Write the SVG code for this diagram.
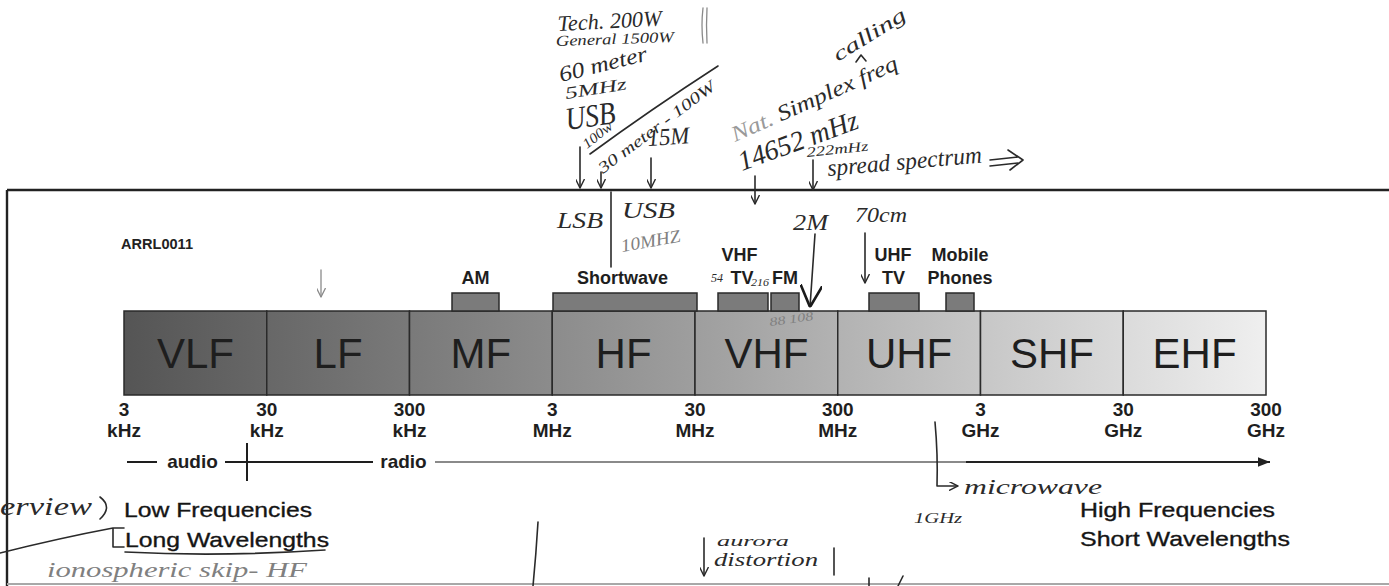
<svg xmlns="http://www.w3.org/2000/svg" width="1389" height="586" viewBox="0 0 1389 586">
<style>
.band{stroke:#2a2a2a;stroke-width:1.5}
.blab{font-family:"Liberation Sans",Arial,sans-serif;font-size:42px;fill:#1e1e1e;text-anchor:middle}
.sub{fill:#7b7b7b;stroke:#2a2a2a;stroke-width:1.5}
.slab{font-family:"Liberation Sans",Arial,sans-serif;font-size:18px;font-weight:bold;fill:#1e1e1e;text-anchor:middle}
.tick{font-family:"Liberation Sans",Arial,sans-serif;font-size:19px;font-weight:bold;fill:#1e1e1e;text-anchor:middle}
.big{font-family:"Liberation Sans",Arial,sans-serif;font-size:21px;fill:#151515;stroke:#151515;stroke-width:0.35}
.hw{font-family:"Liberation Serif",serif;font-style:italic;fill:#2a2a2a}
.hwg{font-family:"Liberation Serif",serif;font-style:italic;fill:#808080}
.pen{fill:none;stroke:#2a2a2a;stroke-width:1.6;stroke-linecap:round;stroke-linejoin:round}
.peng{fill:none;stroke:#8a8a8a;stroke-width:1.3;stroke-linecap:round}
.frame{fill:none;stroke:#222;stroke-width:2.4}
</style>
<defs>
<linearGradient id="spec" gradientUnits="userSpaceOnUse" x1="124" y1="0" x2="1266" y2="0">
<stop offset="0" stop-color="#555555"/>
<stop offset="0.5" stop-color="#9e9e9e"/>
<stop offset="1" stop-color="#efefef"/>
</linearGradient>
<marker id="ah" viewBox="0 0 10 10" refX="10" refY="5" markerWidth="9" markerHeight="9" markerUnits="userSpaceOnUse" orient="auto">
<path d="M0,0 L10,5 L0,10" fill="none" stroke="#2a2a2a" stroke-width="1.6"/>
</marker>
<marker id="ahg" viewBox="0 0 10 10" refX="10" refY="5" markerWidth="9" markerHeight="9" markerUnits="userSpaceOnUse" orient="auto">
<path d="M0,0 L10,5 L0,10" fill="none" stroke="#8a8a8a" stroke-width="1.4"/>
</marker>
<marker id="ahbig" viewBox="0 0 10 10" refX="10" refY="5" markerWidth="22" markerHeight="22" markerUnits="userSpaceOnUse" orient="auto">
<path d="M0,0 L10,5 L0,10" fill="none" stroke="#1a1a1a" stroke-width="1.2"/>
</marker>
<marker id="tri" viewBox="0 0 10 10" refX="10" refY="5" markerWidth="12" markerHeight="12" markerUnits="userSpaceOnUse" orient="auto">
<path d="M0,1 L10,5 L0,9 Z" fill="#222"/>
</marker>
</defs>

<rect width="1389" height="586" fill="#ffffff"/>

<g id="frame">
<path class="frame" d="M7,190 H1389"/>
<path class="frame" d="M7,190 V586"/>
<path d="M7,584 H1389" stroke="#a8a8a8" stroke-width="2"/>
</g>

<g id="title"><text x="121" y="249" font-family="Liberation Sans, Arial, sans-serif" font-size="14" font-weight="bold" fill="#222" textLength="72" lengthAdjust="spacingAndGlyphs">ARRL0011</text></g>

<g id="band-vlf"><rect class="band" x="124" y="311" width="142.75" height="84" fill="url(#spec)"/><text class="blab" x="195.4" y="368">VLF</text></g>
<g id="band-lf"><rect class="band" x="266.75" y="311" width="142.75" height="84" fill="url(#spec)"/><text class="blab" x="338.1" y="368">LF</text></g>
<g id="band-mf"><rect class="band" x="409.5" y="311" width="142.75" height="84" fill="url(#spec)"/><text class="blab" x="480.9" y="368">MF</text></g>
<g id="band-hf"><rect class="band" x="552.25" y="311" width="142.75" height="84" fill="url(#spec)"/><text class="blab" x="623.6" y="368">HF</text></g>
<g id="band-vhf"><rect class="band" x="695" y="311" width="142.75" height="84" fill="url(#spec)"/><text class="blab" x="766.4" y="368">VHF</text></g>
<g id="band-uhf"><rect class="band" x="837.75" y="311" width="142.75" height="84" fill="url(#spec)"/><text class="blab" x="909.1" y="368">UHF</text></g>
<g id="band-shf"><rect class="band" x="980.5" y="311" width="142.75" height="84" fill="url(#spec)"/><text class="blab" x="1051.9" y="368">SHF</text></g>
<g id="band-ehf"><rect class="band" x="1123.25" y="311" width="142.75" height="84" fill="url(#spec)"/><text class="blab" x="1194.6" y="368">EHF</text></g>

<g id="sub-am"><rect class="sub" x="452" y="293" width="47" height="18"/><text class="slab" x="475.5" y="284">AM</text></g>
<g id="sub-shortwave"><rect class="sub" x="553" y="293" width="144" height="18"/><text class="slab" x="622.5" y="284">Shortwave</text></g>
<g id="sub-vhftv"><rect class="sub" x="718" y="293" width="50" height="18"/><text class="slab" x="739.5" y="261">VHF</text><text class="slab" x="742" y="284">TV</text></g>
<g id="sub-fm"><rect class="sub" x="771" y="293" width="28" height="18"/><text class="slab" x="785" y="284">FM</text></g>
<g id="sub-uhftv"><rect class="sub" x="869" y="293" width="50" height="18"/><text class="slab" x="893" y="261">UHF</text><text class="slab" x="893.5" y="284">TV</text></g>
<g id="sub-mobile"><rect class="sub" x="946" y="293" width="28" height="18"/><text class="slab" x="960" y="261">Mobile</text><text class="slab" x="960" y="284">Phones</text></g>

<g id="ticks">
<text class="tick" x="124" y="416">3</text><text class="tick" x="124" y="437">kHz</text>
<text class="tick" x="266.75" y="416">30</text><text class="tick" x="266.75" y="437">kHz</text>
<text class="tick" x="409.5" y="416">300</text><text class="tick" x="409.5" y="437">kHz</text>
<text class="tick" x="552.25" y="416">3</text><text class="tick" x="552.25" y="437">MHz</text>
<text class="tick" x="695" y="416">30</text><text class="tick" x="695" y="437">MHz</text>
<text class="tick" x="837.75" y="416">300</text><text class="tick" x="837.75" y="437">MHz</text>
<text class="tick" x="980.5" y="416">3</text><text class="tick" x="980.5" y="437">GHz</text>
<text class="tick" x="1123.25" y="416">30</text><text class="tick" x="1123.25" y="437">GHz</text>
<text class="tick" x="1266" y="416">300</text><text class="tick" x="1266" y="437">GHz</text>
</g>

<g id="axis">
<path d="M127,462 H157 M225,462 H373 M247,443 V481" stroke="#1e1e1e" stroke-width="2" fill="none"/>
<text class="tick" x="192.5" y="468">audio</text>
<text class="tick" x="403.5" y="468">radio</text>
<path d="M435,462 H966" stroke="#8a8a8a" stroke-width="2.2" fill="none"/>
<path d="M966,462 H1270" stroke="#222" stroke-width="2.2" fill="none" marker-end="url(#tri)"/>
</g>

<g id="captions">
<text class="big" x="124" y="517" textLength="188" lengthAdjust="spacingAndGlyphs">Low Frequencies</text>
<text class="big" x="125" y="547" textLength="204" lengthAdjust="spacingAndGlyphs">Long Wavelengths</text>
<text class="big" x="1080" y="517" textLength="195" lengthAdjust="spacingAndGlyphs">High Frequencies</text>
<text class="big" x="1080" y="546" textLength="210" lengthAdjust="spacingAndGlyphs">Short Wavelengths</text>
</g>

<g id="notes">
<text class="hw" transform="translate(558,31) rotate(-3)" font-size="22" textLength="104" lengthAdjust="spacingAndGlyphs">Tech. 200W</text>
<text class="hw" transform="translate(556,46) rotate(-2)" font-size="15" textLength="118" lengthAdjust="spacingAndGlyphs">General 1500W</text>
<text class="hw" transform="translate(561,82) rotate(-14)" font-size="22" textLength="90" lengthAdjust="spacingAndGlyphs">60 meter</text>
<text class="hw" transform="translate(566,99) rotate(-9)" font-size="17" textLength="62" lengthAdjust="spacingAndGlyphs">5MHz</text>
<text class="hw" transform="translate(567,130) rotate(-8)" font-size="32" textLength="50" lengthAdjust="spacingAndGlyphs">USB</text>
<text class="hw" transform="translate(587,149) rotate(-38)" font-size="14" textLength="34" lengthAdjust="spacingAndGlyphs">100w</text>
<text class="hw" transform="translate(603,174) rotate(-37)" font-size="16" textLength="142" lengthAdjust="spacingAndGlyphs">30 meter - 100W</text>
<text class="hw" transform="translate(648,146) rotate(-4)" font-size="24" textLength="42" lengthAdjust="spacingAndGlyphs">15M</text>
<text class="hw" x="557" y="228" font-size="24" textLength="46" lengthAdjust="spacingAndGlyphs">LSB</text>
<text class="hw" x="622" y="218" font-size="24" textLength="53" lengthAdjust="spacingAndGlyphs">USB</text>
<text class="hwg" transform="translate(622,252) rotate(-10)" font-size="18" textLength="60" lengthAdjust="spacingAndGlyphs">10MHZ</text>
<text class="hw" transform="translate(735,142) rotate(-24)" font-size="22" textLength="180" lengthAdjust="spacingAndGlyphs"><tspan fill="#9a9a9a">Nat.</tspan> Simplex freq</text>
<text class="hw" transform="translate(838,62) rotate(-32)" font-size="20" textLength="82" lengthAdjust="spacingAndGlyphs">calling</text>
<text class="hw" transform="translate(742,171) rotate(-20)" font-size="28" textLength="126" lengthAdjust="spacingAndGlyphs">14652 mHz</text>
<text class="hw" transform="translate(807,157) rotate(-6)" font-size="14" textLength="62" lengthAdjust="spacingAndGlyphs">222mHz</text>
<text class="hw" transform="translate(828,176) rotate(-5)" font-size="24" textLength="155" lengthAdjust="spacingAndGlyphs">spread spectrum</text>
<text class="hw" x="793" y="230" font-size="24" textLength="35" lengthAdjust="spacingAndGlyphs">2M</text>
<text class="hw" x="855" y="222" font-size="20" textLength="52" lengthAdjust="spacingAndGlyphs">70cm</text>
<text class="hw" x="711" y="282" font-size="12">54</text>
<text class="hw" x="751" y="286" font-size="10" textLength="18" lengthAdjust="spacingAndGlyphs">216</text>
<text class="hwg" transform="translate(770,326) rotate(-8)" font-size="12" textLength="44" lengthAdjust="spacingAndGlyphs">88 108</text>
<text class="hw" x="964" y="494" font-size="20" textLength="138" lengthAdjust="spacingAndGlyphs" fill="#555">microwave</text>
<text class="hw" x="914" y="523" font-size="14" textLength="48" lengthAdjust="spacingAndGlyphs" fill="#555">1GHz</text>
<text class="hw" x="0" y="515" font-size="26" textLength="92" lengthAdjust="spacingAndGlyphs" fill="#555">erview</text>
<text class="hwg" x="47" y="577" font-size="20" textLength="260" lengthAdjust="spacingAndGlyphs">ionospheric skip- HF</text>
<text class="hw" x="717" y="546" font-size="14" textLength="72" lengthAdjust="spacingAndGlyphs" fill="#444">aurora</text>
<text class="hw" x="714" y="566" font-size="18" textLength="104" lengthAdjust="spacingAndGlyphs" fill="#444">distortion</text>
</g>

<g id="connectors">
<path class="peng" d="M703,8 Q701,25 703,43 M707,8 Q706,25 707,43"/>
<path class="pen" d="M590,154 Q650,110 718,66"/>
<path class="pen" d="M580,147 V188" marker-end="url(#ah)"/>
<path class="pen" d="M601,172 V188" marker-end="url(#ah)"/>
<path class="pen" d="M651,158 V188" marker-end="url(#ah)"/>
<path class="pen" d="M611,192 V267"/>
<path class="pen" d="M856,62 L861,55 L866,61"/>
<path class="pen" d="M990,160 L1018,157 M990,166 L1018,163 M1008,150 L1023,160 L1010,170"/>
<path class="pen" d="M813,160 V190" marker-end="url(#ah)"/>
<path class="pen" d="M755,176 V204" marker-end="url(#ah)"/>
<path class="pen" d="M815,234 L810,307" stroke-width="2" marker-end="url(#ahbig)"/>
<path class="pen" d="M865,233 V283" marker-end="url(#ah)"/>
<path class="peng" d="M321,270 V297" marker-end="url(#ahg)"/>
<path class="pen" d="M935,422 Q938,455 937,486 H958" stroke="#555" stroke-width="1.3" marker-end="url(#ah)"/>
<path class="pen" d="M100,497 Q113,507 100,519" stroke="#555" stroke-width="1.3"/>
<path class="pen" d="M0,553 Q60,538 113,528 M124,528 H113 V547 H124 M125,552 Q220,557 325,550" stroke="#444" stroke-width="1.4"/>
<path class="pen" d="M538,522 Q536,555 533,586" stroke-width="1.3"/>
<path class="pen" d="M704,538 V576" stroke-width="1.3" marker-end="url(#ah)"/>
<path class="pen" d="M834,548 V575" stroke-width="1.3"/>
<path class="pen" d="M869,578 V586 M903,576 L898,586" stroke-width="1.2"/>
</g>
</svg>
